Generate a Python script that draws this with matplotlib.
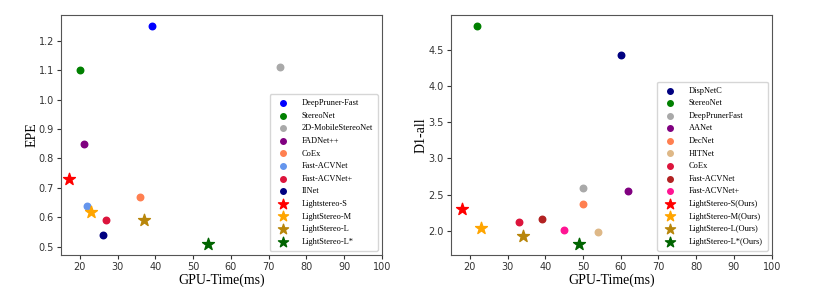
import matplotlib
matplotlib.use("Agg")
import matplotlib.pyplot as plt

# SceneFlow (EPE vs GPU time)
sf_names = ["DeepPruner-Fast", "StereoNet", "2D-MobileStereoNet", "FADNet++", "CoEx",
            "Fast-ACVNet", "Fast-ACVNet+", "IINet",
            "Lightstereo-S", "LightStereo-M", "LightStereo-L", "LightStereo-L*"]
sf_time = [39, 20, 73, 21, 36, 22, 27, 26, 17, 23, 37, 54]
sf_epe = [1.25, 1.10, 1.11, 0.85, 0.67, 0.64, 0.59, 0.54, 0.73, 0.62, 0.59, 0.51]
sf_colors = ["blue", "green", "darkgray", "purple", "coral", "cornflowerblue", "crimson", "navy",
             "red", "orange", "darkgoldenrod", "darkgreen"]
sf_ours = [False] * 8 + [True] * 4

# KITTI (D1-all vs GPU time)
kt_names = ["DispNetC", "StereoNet", "DeepPrunerFast", "AANet", "DecNet", "HITNet", "CoEx",
            "Fast-ACVNet", "Fast-ACVNet+",
            "LightStereo-S(Ours)", "LightStereo-M(Ours)", "LightStereo-L(Ours)", "LightStereo-L*(Ours)"]
kt_time = [60, 22, 50, 62, 50, 54, 33, 39, 45, 18, 23, 34, 49]
kt_d1 = [4.43, 4.83, 2.59, 2.55, 2.37, 1.98, 2.13, 2.17, 2.01, 2.30, 2.04, 1.93, 1.82]
kt_colors = ["navy", "green", "darkgray", "purple", "coral", "burlywood", "crimson", "firebrick",
             "deeppink", "red", "orange", "darkgoldenrod", "darkgreen"]
kt_ours = [False] * 9 + [True] * 4

serif = "Liberation Serif"


def draw(ax, names, xs, ys, colors, ours, ylabel):
    for n, x, y, c, star in zip(names, xs, ys, colors, ours):
        if star:
            ax.scatter(x, y, marker="*", s=80, color=c, label=n, zorder=3)
        else:
            ax.scatter(x, y, marker="o", s=22, color=c, label=n, zorder=3)
    ax.set_xlim(15, 100)
    ax.set_xlabel("GPU-Time(ms)", fontsize=10, family=serif, labelpad=1.5)
    ax.set_ylabel(ylabel, fontsize=10, family=serif, labelpad=0.5)
    ax.tick_params(labelsize=7, colors="#333333", length=3, pad=2)
    for sp in ax.spines.values():
        sp.set_color("#555555")
    leg = ax.legend(loc="lower right", prop={"family": serif, "size": 6},
                    labelspacing=0.55, handletextpad=1.2, borderpad=0.6,
                    markerscale=0.85)
    leg.get_frame().set_edgecolor("#cccccc")


fig = plt.figure(figsize=(8.14, 2.92), dpi=100)
ax1 = fig.add_axes([0.075, 0.127, 0.394, 0.822])
ax2 = fig.add_axes([0.554, 0.127, 0.394, 0.822])

draw(ax1, sf_names, sf_time, sf_epe, sf_colors, sf_ours, "EPE")
draw(ax2, kt_names, kt_time, kt_d1, kt_colors, kt_ours, "D1-all")

fig.savefig("out.png", dpi=100)
plt.close(fig)
